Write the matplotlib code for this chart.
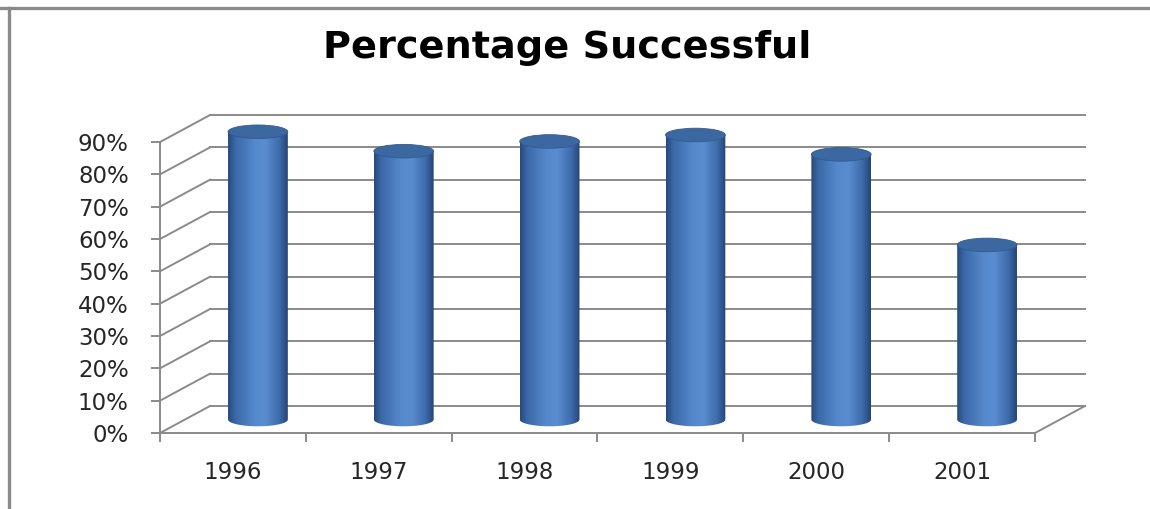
import matplotlib

matplotlib.use("Agg")
import matplotlib.pyplot as plt
import numpy as np
from matplotlib.colors import LinearSegmentedColormap
from matplotlib.lines import Line2D
from matplotlib.patches import Ellipse, PathPatch
from matplotlib.path import Path

# data
years = ["1996", "1997", "1998", "1999", "2000", "2001"]
success = [0.89, 0.83, 0.86, 0.88, 0.82, 0.54]
y_ticks = [0.0, 0.1, 0.2, 0.3, 0.4, 0.5, 0.6, 0.7, 0.8, 0.9]
title = "Percentage Successful"

W, H, DPI = 1150, 509, 100
GRID = "#8a8a8a"
LW = 1.4

# fake 3-D depth, in data units (back wall sits up and to the right)
DX, DY = 0.343, 0.0835
BAR_W = 0.41
CAP_H = 0.042

body_cmap = LinearSegmentedColormap.from_list(
    "cyl",
    [(0.0, "#27497c"), (0.12, "#3a68a8"), (0.45, "#5689cc"),
     (0.62, "#5a8dd0"), (0.85, "#3f6dad"), (1.0, "#244577")],
)

fig = plt.figure(figsize=(W / DPI, H / DPI), dpi=DPI)
ax = fig.add_axes([160 / W, 76 / H, 875 / W, 323.3 / H])
n = len(years)
x0, x1 = -0.5, n - 0.5
ax.set_xlim(x0, x1)
ax.set_ylim(0, 1.0)
for s in ax.spines.values():
    s.set_visible(False)

# back wall gridlines + left wall diagonals
for v in y_ticks:
    ax.plot([x0 + DX, x1 + DX], [v + DY, v + DY], color=GRID, lw=LW,
            clip_on=False, zorder=1)
    ax.plot([x0, x0 + DX], [v, v + DY], color=GRID, lw=LW,
            clip_on=False, zorder=1)
# floor right edge, front floor line, front vertical axis
ax.plot([x1, x1 + DX], [0, DY], color=GRID, lw=LW, clip_on=False, zorder=1)
ax.plot([x0, x1], [0, 0], color=GRID, lw=LW, clip_on=False, zorder=5)
ax.plot([x0, x0], [0, y_ticks[-1]], color=GRID, lw=LW, clip_on=False, zorder=5)

# cylinders
grad = np.linspace(0, 1, 256).reshape(1, -1)
t = np.linspace(np.pi, 2 * np.pi, 60)
for i, v in enumerate(success):
    cx = i + DX / 2
    b = DY / 2
    top = v + DY / 2
    l, r = cx - BAR_W / 2, cx + BAR_W / 2
    arc = np.column_stack([cx + BAR_W / 2 * np.cos(t), b + CAP_H / 2 * np.sin(t)])
    verts = np.vstack([[[l, top]], arc, [[r, top]], [[l, top]]])
    codes = [Path.MOVETO] + [Path.LINETO] * (len(verts) - 2) + [Path.CLOSEPOLY]
    body = PathPatch(Path(verts, codes), facecolor="none", edgecolor="none", zorder=3)
    ax.add_patch(body)
    im = ax.imshow(grad, cmap=body_cmap, extent=[l, r, b - CAP_H, top],
                   aspect="auto", zorder=3, interpolation="bilinear")
    im.set_clip_path(body)
    ax.add_patch(Ellipse((cx, top), BAR_W, CAP_H, facecolor="#3c68a2",
                         edgecolor="#34598c", lw=0.6, zorder=4))

ax.set_xlim(x0, x1)
ax.set_ylim(0, 1.0)

# ticks
ax.set_yticks(y_ticks)
ax.set_yticklabels([f"{v:.0%}" for v in y_ticks])
ax.set_xticks(np.arange(n + 1) - 0.5)
ax.set_xticklabels([])
ax.set_xticks(np.arange(n), minor=True)
ax.set_xticklabels(years, minor=True)
ax.tick_params(axis="both", which="major", direction="out", length=6.5,
               width=LW, color=GRID, labelsize=16.5, labelcolor="#262626")
ax.tick_params(axis="y", pad=16)
ax.tick_params(axis="x", which="minor", length=0, pad=20, labelsize=16.5,
               labelcolor="#262626")

fig.text(567 / W, 1 - 48 / H, title, ha="center", va="center",
         fontsize=27.5, fontweight="bold", color="black")

# outer chart border (top and left edges visible)
fig.add_artist(Line2D([0, 1], [1 - 7.5 / H, 1 - 7.5 / H],
                      transform=fig.transFigure, color="#8a8a8a", lw=2.4))
fig.add_artist(Line2D([8.5 / W, 8.5 / W], [0, 1 - 7.5 / H],
                      transform=fig.transFigure, color="#8a8a8a", lw=2.4))

fig.savefig("out.png", dpi=DPI)
